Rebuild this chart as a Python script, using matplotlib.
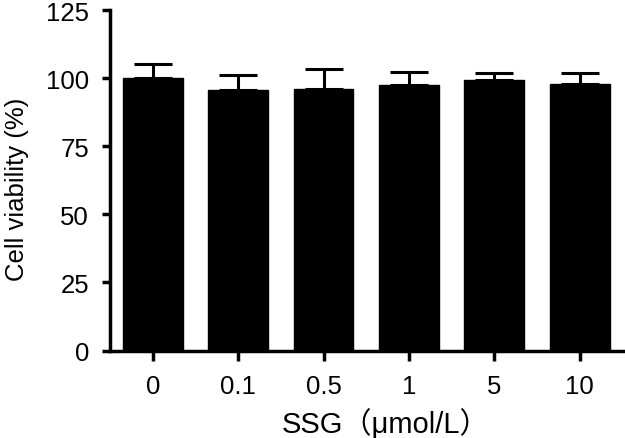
import numpy as np
import matplotlib.pyplot as plt

plt.rcParams['font.family'] = ['Liberation Sans', 'Noto Sans CJK SC', 'DejaVu Sans']

doses = ['0', '0.1', '0.5', '1', '5', '10']
viability = [100.0, 95.8, 96.0, 97.5, 99.4, 98.0]
sd = [5.0, 5.2, 7.5, 4.8, 2.4, 3.7]

fig = plt.figure(figsize=(6.25, 4.39), dpi=100)
ax = fig.add_axes([0.176, 0.1993, 0.824, 0.7756])

x = np.arange(len(doses))
ax.bar(x, viability, width=0.7, color='black', edgecolor='black')
ax.errorbar(x, viability, yerr=[np.zeros(len(sd)), sd], fmt='none',
            ecolor='black', elinewidth=2.2, capsize=14, capthick=2.2)

ax.set_xlim(-0.5, 5.53)
ax.set_ylim(0, 125)
ax.set_yticks([0, 25, 50, 75, 100, 125])
ax.set_xticks(x)
ax.set_xticklabels(doses)

for s in ['top', 'right']:
    ax.spines[s].set_visible(False)
for s in ['left', 'bottom']:
    ax.spines[s].set_linewidth(2.5)

ax.tick_params(axis='y', length=6, width=2.5, labelsize=18.5, pad=9)
ax.tick_params(axis='x', length=7, width=2.5, labelsize=18.5, pad=10)

ax.set_ylabel('Cell viability (%)', fontsize=18.5)
ax.yaxis.set_label_coords(-0.158, 0.476)
ax.set_xlabel('SSG\uff08\u03bcmol/L\uff09', fontsize=21)
ax.xaxis.set_label_coords(0.535, -0.165)

fig.savefig('out.png', dpi=100)
